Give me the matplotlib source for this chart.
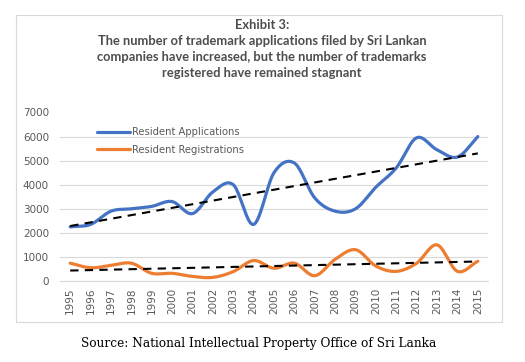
"""Exhibit 3: resident trademark applications vs registrations, Sri Lanka."""

import numpy as np
import matplotlib
matplotlib.use("Agg")
import matplotlib.pyplot as plt
from matplotlib.patches import Rectangle

years = list(range(1995, 2016))
applications = [2250, 2350, 2900, 3000, 3100, 3300, 2800, 3700, 4000, 2350, 4500,
                4900, 3450, 2900, 3000, 3900, 4700, 5950, 5450, 5150, 6000]
registrations = [740, 550, 650, 740, 320, 320, 190, 150, 390, 850, 530,
                 740, 220, 900, 1300, 620, 400, 740, 1500, 400, 820]
series_labels = ["Resident Applications", "Resident Registrations"]
y_ticks = [0, 1000, 2000, 3000, 4000, 5000, 6000, 7000]

title = ("Exhibit 3:\nThe number of trademark applications filed by Sri Lankan\n"
         "companies have increased, but the number of trademarks\n"
         "registered have remained stagnant")
source = "Source: National Intellectual Property Office of Sri Lanka"

BLUE = "#4472C4"
ORANGE = "#ED7D31"
GREY = "#595959"


def smooth(xs, ys, steps=20):
    """Catmull-Rom style curve through the points, like Excel's smoothed line."""
    xs = np.asarray(xs, float)
    ys = np.asarray(ys, float)
    px = np.concatenate([[2 * xs[0] - xs[1]], xs, [2 * xs[-1] - xs[-2]]])
    py = np.concatenate([[2 * ys[0] - ys[1]], ys, [2 * ys[-1] - ys[-2]]])
    out_x, out_y = [], []
    t = np.linspace(0, 1, steps, endpoint=False)
    for i in range(1, len(px) - 2):
        for arr, out in ((px, out_x), (py, out_y)):
            p0, p1, p2, p3 = arr[i - 1:i + 3]
            out.extend(0.5 * ((2 * p1) + (-p0 + p2) * t
                              + (2 * p0 - 5 * p1 + 4 * p2 - p3) * t ** 2
                              + (-p0 + 3 * p1 - 3 * p2 + p3) * t ** 3))
    out_x.append(xs[-1])
    out_y.append(ys[-1])
    return out_x, out_y


fig = plt.figure(figsize=(5.25, 3.62), dpi=100)
fig.patches.append(Rectangle((16 / 525, 1 - 322 / 362), 486 / 525, 307 / 362,
                             transform=fig.transFigure, fill=False,
                             edgecolor="#D9D9D9", linewidth=0.8))

ax = fig.add_axes([60 / 525, 1 - 281 / 362, 428 / 525, (281 - 112.5) / 362])
x = np.arange(len(years))

for vals, color, label in ((applications, BLUE, series_labels[0]),
                           (registrations, ORANGE, series_labels[1])):
    sx, sy = smooth(x, vals)
    ax.plot(sx, sy, color=color, linewidth=2.3, label=label,
            solid_capstyle="round", zorder=3)
    slope, icpt = np.polyfit(x, vals, 1)
    ax.plot(x, slope * x + icpt, color="black", linestyle=(0, (4, 3)),
            linewidth=1.5, zorder=4)

ax.set_xlim(-0.5, len(years) - 0.5)
ax.set_ylim(0, 7000)
ax.set_yticks(y_ticks)
ax.set_yticklabels([str(v) for v in y_ticks])
ax.set_xticks(x)
ax.set_xticklabels([str(y) for y in years], rotation=90)
ax.tick_params(axis="both", length=0, labelsize=7.5, labelcolor=GREY)
ax.tick_params(axis="y", pad=8)
ax.tick_params(axis="x", pad=5)
ax.grid(axis="y", color="#D9D9D9", linewidth=0.8)
ax.set_axisbelow(True)
for side in ("top", "right", "left"):
    ax.spines[side].set_visible(False)
ax.spines["bottom"].set_color("#D9D9D9")

leg = ax.legend(loc="upper left", bbox_to_anchor=(0.065, 0.965), frameon=False,
                fontsize=7.2, handlelength=3.3, handletextpad=0.25,
                labelspacing=0.75, labelcolor=GREY)

fig.text(262 / 525, 1 - 19 / 362, title, ha="center", va="top",
         fontsize=9.3, fontweight="bold", color="#4D4D4D", family="Lato",
         linespacing=1.4)
fig.text(259 / 525, 1 - 343 / 362, source, ha="center", va="center",
         fontsize=8.7, color="black", family="DejaVu Serif")

fig.savefig("out.png", dpi=100)
